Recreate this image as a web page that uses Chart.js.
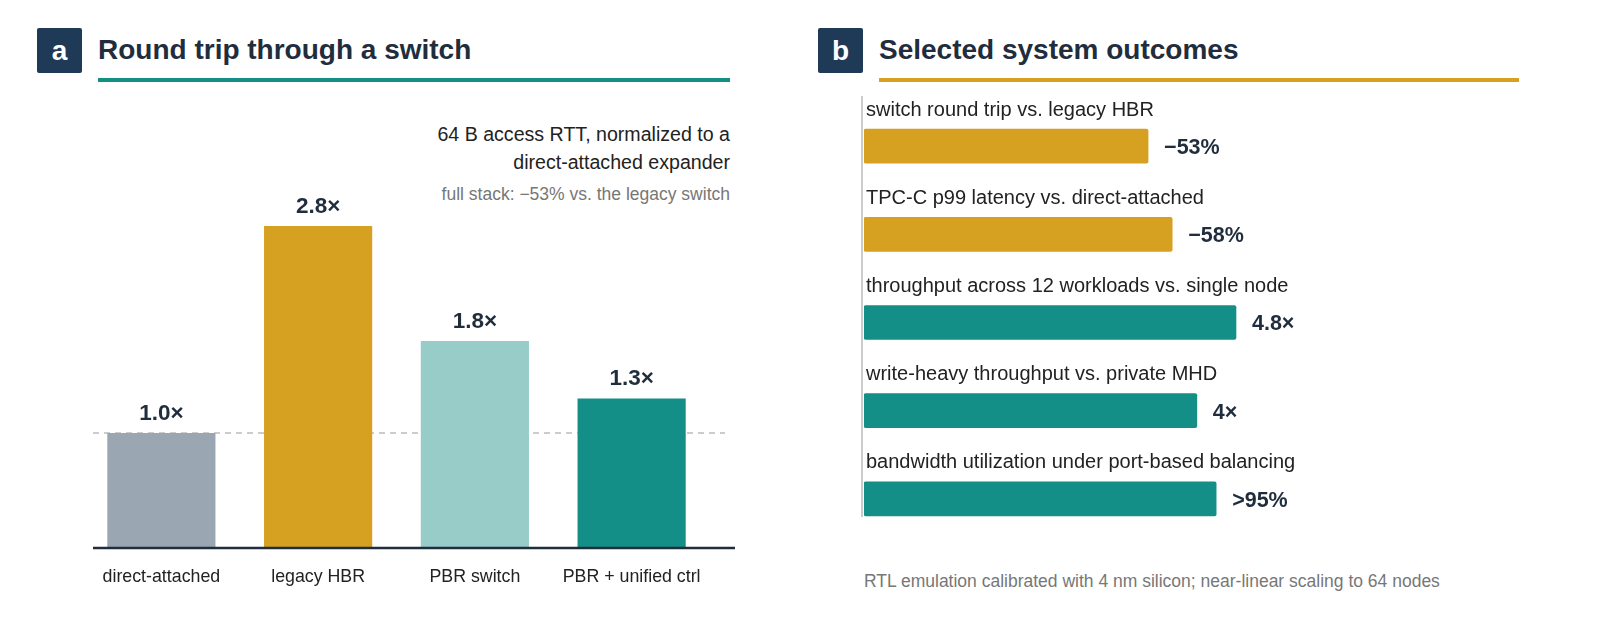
<!DOCTYPE html>
<html>
<head>
<meta charset="utf-8">
<script src="https://cdn.jsdelivr.net/npm/chart.js"></script>
<style>
  body { margin:0; width:1600px; height:640px; background:#fff; font-family:"Liberation Sans", Arial, sans-serif; position:relative; overflow:hidden; }
  .abs { position:absolute; }
  .badge { width:45px; height:45px; background:#1e3a56; color:#fff; font-weight:bold; font-size:28px; text-align:center; line-height:45px; border-radius:2px; }
  .title { font-weight:bold; font-size:28px; color:#1f2d3d; }
  .rule { height:4px; }
  canvas { position:absolute; top:0; }
</style>
</head>
<body>
<div class="abs badge" style="left:37px;top:28px;">a</div>
<div class="abs title" style="left:98px;top:34px;">Round trip through a switch</div>
<div class="abs rule" style="left:98px;top:78px;width:632px;background:#138f87;"></div>
<div class="abs" style="right:870px;top:120px;text-align:right;font-size:19.6px;line-height:28px;color:#222;">64 B access RTT, normalized to a<br>direct-attached expander</div>
<div class="abs" style="right:870px;top:184px;text-align:right;font-size:17.5px;color:#777;">full stack: −53% vs. the legacy switch</div>

<div class="abs badge" style="left:818px;top:28px;">b</div>
<div class="abs title" style="left:879px;top:34px;">Selected system outcomes</div>
<div class="abs rule" style="left:879px;top:78px;width:640px;background:#d6a020;"></div>
<div class="abs" style="left:861px;top:96px;width:2px;height:421px;background:#ccc;"></div>
<div class="abs" style="left:864px;top:571px;font-size:17.5px;color:#777;">RTL emulation calibrated with 4 nm silicon; near-linear scaling to 64 nodes</div>

<canvas id="ca" style="left:0;"></canvas>
<canvas id="cb" style="left:800px;"></canvas>
<script>
// panel a
const rttCategories = ['direct-attached', 'legacy HBR', 'PBR switch', 'PBR + unified ctrl'];
const rttValues = [1.0, 2.8, 1.8, 1.3];
const rttLabels = ['1.0×', '2.8×', '1.8×', '1.3×'];
const rttColors = ['#9aa7b3', '#d6a020', '#97ccc8', '#138f87'];

// panel b (bar length is a relative score)
const outcomeCategories = [
  'switch round trip vs. legacy HBR',
  'TPC-C p99 latency vs. direct-attached',
  'throughput across 12 workloads vs. single node',
  'write-heavy throughput vs. private MHD',
  'bandwidth utilization under port-based balancing'
];
const outcomeScores = [53, 57.5, 69.4, 62.1, 65.7];
const outcomeLabels = ['−53%', '−58%', '4.8×', '4×', '>95%'];
const outcomeColors = ['#d6a020', '#d6a020', '#138f87', '#138f87', '#138f87'];

function setup(id) {
  const c = document.getElementById(id);
  c.width = 800; c.height = 640;
  c.style.width = '800px'; c.style.height = '640px';
  return c;
}

const rttPlugin = {
  id: 'rtt',
  beforeDatasetsDraw(chart) {
    const ctx = chart.ctx, y = chart.scales.y;
    ctx.save();
    ctx.strokeStyle = '#999'; ctx.lineWidth = 1.2; ctx.setLineDash([6, 5]);
    ctx.beginPath(); ctx.moveTo(93, y.getPixelForValue(1)); ctx.lineTo(725, y.getPixelForValue(1)); ctx.stroke();
    ctx.restore();
  },
  afterDatasetsDraw(chart) {
    const ctx = chart.ctx, a = chart.chartArea;
    ctx.save();
    ctx.strokeStyle = '#1f2d3d'; ctx.lineWidth = 2.5;
    ctx.beginPath(); ctx.moveTo(93, a.bottom); ctx.lineTo(735, a.bottom); ctx.stroke();
    ctx.textAlign = 'center';
    chart.getDatasetMeta(0).data.forEach((bar, i) => {
      ctx.fillStyle = '#1f2d3d'; ctx.font = 'bold 22.5px "Liberation Sans", Arial';
      ctx.textBaseline = 'bottom';
      ctx.fillText(rttLabels[i], bar.x, bar.y - 8);
      ctx.fillStyle = '#222'; ctx.font = '17.8px "Liberation Sans", Arial';
      ctx.textBaseline = 'middle';
      ctx.fillText(rttCategories[i], bar.x, a.bottom + 29);
    });
    ctx.restore();
  }
};

new Chart(setup('ca'), {
  type: 'bar',
  data: { labels: rttCategories, datasets: [{ data: rttValues, backgroundColor: rttColors, categoryPercentage: 1, barPercentage: 0.69 }] },
  options: {
    responsive: false, animation: false,
    layout: { padding: { left: 83, right: 90, top: 111, bottom: 92 } },
    plugins: { legend: { display: false }, tooltip: { enabled: false } },
    scales: {
      x: { display: false },
      y: { display: false, min: 0, max: 3.8 }
    }
  },
  plugins: [rttPlugin]
});

const outcomePlugin = {
  id: 'outcome',
  afterDatasetsDraw(chart) {
    const ctx = chart.ctx, a = chart.chartArea;
    ctx.save();
    chart.getDatasetMeta(0).data.forEach((bar, i) => {
      ctx.textBaseline = 'middle';
      ctx.fillStyle = '#222'; ctx.font = '20px "Liberation Sans", Arial';
      ctx.textAlign = 'left';
      ctx.fillText(outcomeCategories[i], a.left + 2, bar.y - 36);
      ctx.fillStyle = '#1f2d3d'; ctx.font = 'bold 21.5px "Liberation Sans", Arial';
      ctx.fillText(outcomeLabels[i], bar.x + 16, bar.y + 2);
    });
    ctx.restore();
  }
};

new Chart(setup('cb'), {
  type: 'bar',
  data: { labels: outcomeCategories, datasets: [{ data: outcomeScores, backgroundColor: outcomeColors, barThickness: 34, borderRadius: 2, borderSkipped: false }] },
  options: {
    indexAxis: 'y',
    responsive: false, animation: false,
    layout: { padding: { left: 64, right: 200, top: 102, bottom: 97 } },
    plugins: { legend: { display: false }, tooltip: { enabled: false } },
    scales: {
      x: { display: false, min: 0, max: 100 },
      y: { display: false }
    }
  },
  plugins: [outcomePlugin]
});
</script>
</body>
</html>
